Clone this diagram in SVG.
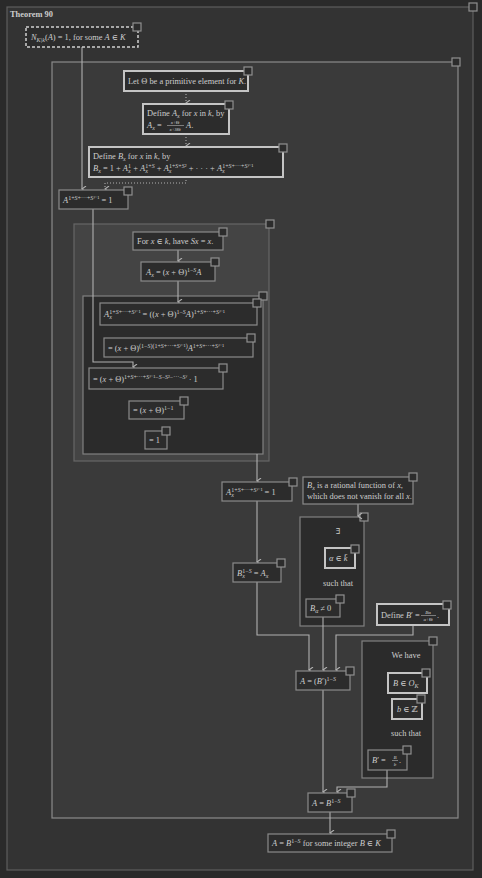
<svg xmlns="http://www.w3.org/2000/svg" width="482" height="878" viewBox="0 0 482 878">
<defs>
<style>
.t{font-family:"Liberation Serif","DejaVu Serif",serif;font-size:8.4px;fill:#cdcdcd}
.b{font-weight:bold}
.i{font-style:italic}
.s{font-size:6px}
.xs{font-size:5px}
.n{fill:#2c2c2c;stroke:#8a8a8a;stroke-width:1.2}
.k{fill:#2c2c2c;stroke:#c4c4c4;stroke-width:2}
.q{fill:#2c2c2c;stroke:#909090;stroke-width:1.2}
.c{fill:none;stroke:#b0b0b0;stroke-width:1.1}
.d{fill:none;stroke:#b0b0b0;stroke-width:1.1;stroke-dasharray:1 2}
</style>
<marker id="a" markerWidth="8" markerHeight="6" refX="3.5" refY="5" orient="auto-start-reverse" markerUnits="userSpaceOnUse" viewBox="0 0 8 6">
<path d="M0.5,1 L3.5,5 L6.5,1" fill="none" stroke="#b0b0b0" stroke-width="1.1"/>
</marker>
</defs>
<rect x="0" y="0" width="482" height="878" fill="#2a2a2a"/>
<g id="theorem">
<rect x="7" y="7" width="466" height="863" fill="#333333" stroke="#5e5e5e" stroke-width="1.2"/>
<rect class="q" x="469" y="3" width="8" height="8"/>
<text class="t b" x="10" y="17">Theorem 90</text>
</g>
<g id="frame">
<rect x="52" y="62" width="406" height="756" fill="#3a3a3a" stroke="#8a8a8a" stroke-width="1.2"/>
<rect class="q" x="452" y="58" width="8" height="8"/>
</g>
<g id="group-forx">
<rect x="74" y="224" width="195" height="237" fill="#444444" stroke="#666666" stroke-width="1.2"/>
<rect class="q" x="266" y="220" width="8" height="8"/>
</g>
<g id="group-chain">
<rect x="83" y="296" width="180" height="158" fill="#2b2b2b" stroke="#808080" stroke-width="1.2"/>
<rect class="q" x="259" y="292" width="8" height="8"/>
</g>
<g id="group-exists">
<rect x="300" y="517" width="64" height="109" fill="#2b2b2b" stroke="#808080" stroke-width="1.2"/>
<rect class="q" x="360" y="513" width="8" height="8"/>
<text class="t" x="338" y="534" text-anchor="middle">∃</text>
<text class="t" x="338" y="586" text-anchor="middle">such that</text>
</g>
<g id="group-wehave">
<rect x="362" y="641" width="71" height="137" fill="#2b2b2b" stroke="#808080" stroke-width="1.2"/>
<rect class="q" x="429" y="637" width="8" height="8"/>
<text class="t" x="406" y="658" text-anchor="middle">We have</text>
<text class="t" x="406" y="736" text-anchor="middle">such that</text>
</g>
<g id="connectors">
<path class="c" d="M82,47 V189" marker-end="url(#a)"/>
<path class="d" d="M186,91 V103" marker-end="url(#a)"/>
<path class="d" d="M186,134 V146" marker-end="url(#a)"/>
<path class="d" d="M186,177 V183 H105 V189" marker-end="url(#a)"/>
<path class="c" d="M93,209 V362 H133 V367" marker-end="url(#a)"/>
<path class="c" d="M178,250 V261" marker-end="url(#a)"/>
<path class="c" d="M178,281 V302" marker-end="url(#a)"/>
<path class="c" d="M257,454 V481" marker-end="url(#a)"/>
<path class="c" d="M257,501 V562" marker-end="url(#a)"/>
<path class="c" d="M358,504 V516" marker-end="url(#a)"/>
<path class="c" d="M257,582 V635 H309 V670" marker-end="url(#a)"/>
<path class="c" d="M323,617 V670" marker-end="url(#a)"/>
<path class="c" d="M413,625 V635 H336 V670" marker-end="url(#a)"/>
<path class="c" d="M323,690 V792" marker-end="url(#a)"/>
<path class="c" d="M387,770 V787 H337 V792" marker-end="url(#a)"/>
<path class="c" d="M330,812 V833" marker-end="url(#a)"/>
</g>
<g id="n1">
<rect x="26" y="27" width="112" height="20" fill="#2c2c2c" stroke="#cfcfcf" stroke-width="1.5" stroke-dasharray="3 2"/>
<rect class="q" x="133" y="23" width="8" height="8"/>
<text class="t" x="31" y="40"><tspan class="i">N</tspan><tspan class="s i" dy="1.5">K|k</tspan><tspan dy="-1.5">(</tspan><tspan class="i">A</tspan>) = 1, for some <tspan class="i">A</tspan> ∈ <tspan class="i">K</tspan></text>
</g>
<g id="n2">
<rect class="k" x="124" y="71" width="124" height="20"/>
<rect class="q" x="244" y="67" width="8" height="8"/>
<text class="t" x="128" y="84">Let Θ be a primitive element for <tspan class="i">K</tspan>.</text>
</g>
<g id="n3">
<rect class="k" x="143" y="104" width="86" height="30"/>
<rect class="q" x="225" y="101" width="8" height="8"/>
<text class="t" x="147" y="116">Define <tspan class="i">A</tspan><tspan class="s i" dy="1.5">x</tspan><tspan dy="-1.5"> for </tspan><tspan class="i">x</tspan> in <tspan class="i">k</tspan>, by</text>
<text class="t" x="147" y="128"><tspan class="i">A</tspan><tspan class="s i" dy="1.5">x</tspan><tspan dy="-1.5"> = </tspan></text>
<text class="t xs" x="175" y="124" text-anchor="middle"><tspan class="i">x</tspan>+Θ</text>
<line x1="167" y1="125.5" x2="184" y2="125.5" stroke="#cdcdcd" stroke-width="0.5"/>
<text class="t xs" x="175" y="130.5" text-anchor="middle"><tspan class="i">x</tspan>+<tspan class="i">S</tspan>Θ</text>
<text class="t" x="186" y="128"><tspan class="i">A</tspan>.</text>
</g>
<g id="n4">
<rect class="k" x="89" y="147" width="194" height="30"/>
<rect class="q" x="279" y="144" width="8" height="8"/>
<text class="t" x="93" y="159">Define <tspan class="i">B</tspan><tspan class="s i" dy="1.5">x</tspan><tspan dy="-1.5"> for </tspan><tspan class="i">x</tspan> in <tspan class="i">k</tspan>, by</text>
<text class="t" x="93" y="171"><tspan class="i">B</tspan><tspan class="s i" dy="1.5">x</tspan><tspan dy="-1.5"> = 1 + </tspan><tspan class="i">A</tspan><tspan class="s i" dy="1.5">x</tspan><tspan class="s" dx="-2.5" dy="-5">1</tspan><tspan dy="3.5"> + </tspan><tspan class="i">A</tspan><tspan class="s i" dy="1.5">x</tspan><tspan class="s" dx="-2.5" dy="-5">1+<tspan class="i">S</tspan></tspan><tspan dy="3.5"> + </tspan><tspan class="i">A</tspan><tspan class="s i" dy="1.5">x</tspan><tspan class="s" dx="-2.5" dy="-5">1+<tspan class="i">S</tspan>+<tspan class="i">S</tspan>²</tspan><tspan dy="3.5"> + · · · + </tspan><tspan class="i">A</tspan><tspan class="s i" dy="1.5">x</tspan><tspan class="s" dx="-2.5" dy="-5">1+<tspan class="i">S</tspan>+···+<tspan class="i">S</tspan><tspan class="i">ᶠ</tspan>⁻¹</tspan></text>
</g>
<g id="n5">
<rect class="n" x="59" y="190" width="69" height="19"/>
<rect class="q" x="124" y="187" width="8" height="8"/>
<text class="t" x="63" y="203"><tspan class="i">A</tspan><tspan class="s" dy="-3.5">1+<tspan class="i">S</tspan>+···+<tspan class="i">S</tspan><tspan class="i">ᶠ</tspan>⁻¹</tspan><tspan dy="3.5"> = 1</tspan></text>
</g>
<g id="n8">
<rect class="n" x="133" y="232" width="90" height="18"/>
<rect class="q" x="219" y="228" width="8" height="8"/>
<text class="t" x="137" y="244">For <tspan class="i">x</tspan> ∈ <tspan class="i">k</tspan>, have <tspan class="i">Sx</tspan> = <tspan class="i">x</tspan>.</text>
</g>
<g id="n9">
<rect class="n" x="141" y="262" width="74" height="19"/>
<rect class="q" x="211" y="258" width="8" height="8"/>
<text class="t" x="146" y="275"><tspan class="i">A</tspan><tspan class="s i" dy="1.5">x</tspan><tspan dy="-1.5"> = (</tspan><tspan class="i">x</tspan> + Θ)<tspan class="s" dy="-3.5">1−<tspan class="i">S</tspan></tspan><tspan class="i" dy="3.5">A</tspan></text>
</g>
<g id="n11">
<rect class="n" x="100" y="303" width="157" height="22"/>
<rect class="q" x="253" y="299" width="8" height="8"/>
<text class="t" x="104" y="317"><tspan class="i">A</tspan><tspan class="s i" dy="1.5">x</tspan><tspan class="s" dx="-2.5" dy="-5">1+<tspan class="i">S</tspan>+···+<tspan class="i">S</tspan><tspan class="i">ᶠ</tspan>⁻¹</tspan><tspan dy="3.5"> = ((</tspan><tspan class="i">x</tspan> + Θ)<tspan class="s" dy="-3.5">1−<tspan class="i">S</tspan></tspan><tspan class="i" dy="3.5">A</tspan>)<tspan class="s" dy="-3.5">1+<tspan class="i">S</tspan>+···+<tspan class="i">S</tspan><tspan class="i">ᶠ</tspan>⁻¹</tspan></text>
</g>
<g id="n12">
<rect class="n" x="104" y="338" width="149" height="19"/>
<rect class="q" x="247" y="334" width="8" height="8"/>
<text class="t" x="108" y="351">= (<tspan class="i">x</tspan> + Θ)<tspan class="s" dy="-3.5">(1−<tspan class="i">S</tspan>)(1+<tspan class="i">S</tspan>+···+<tspan class="i">S</tspan><tspan class="i">ᶠ</tspan>⁻¹)</tspan><tspan class="i" dy="3.5">A</tspan><tspan class="s" dy="-3.5">1+<tspan class="i">S</tspan>+···+<tspan class="i">S</tspan><tspan class="i">ᶠ</tspan>⁻¹</tspan></text>
</g>
<g id="n13">
<rect class="n" x="89" y="368" width="134" height="21"/>
<rect class="q" x="219" y="364" width="8" height="8"/>
<text class="t" x="93" y="382">= (<tspan class="i">x</tspan> + Θ)<tspan class="s" dy="-3.5">1+<tspan class="i">S</tspan>+···+<tspan class="i">S</tspan><tspan class="i">ᶠ</tspan>⁻¹−<tspan class="i">S</tspan>−<tspan class="i">S</tspan>²−···−<tspan class="i">S</tspan><tspan class="i">ᶠ</tspan></tspan><tspan dy="3.5"> · 1</tspan></text>
</g>
<g id="n14">
<rect class="n" x="129" y="401" width="55" height="18"/>
<rect class="q" x="180" y="397" width="8" height="8"/>
<text class="t" x="133" y="413">= (<tspan class="i">x</tspan> + Θ)<tspan class="s" dy="-3.5">1−1</tspan></text>
</g>
<g id="n15">
<rect class="n" x="145" y="431" width="22" height="18"/>
<rect class="q" x="162" y="427" width="8" height="8"/>
<text class="t" x="149" y="443">= 1</text>
</g>
<g id="n16">
<rect class="n" x="222" y="482" width="70" height="19"/>
<rect class="q" x="289" y="478" width="8" height="8"/>
<text class="t" x="226" y="495"><tspan class="i">A</tspan><tspan class="s i" dy="1.5">x</tspan><tspan class="s" dx="-2.5" dy="-5">1+<tspan class="i">S</tspan>+···+<tspan class="i">S</tspan><tspan class="i">ᶠ</tspan>⁻¹</tspan><tspan dy="3.5"> = 1</tspan></text>
</g>
<g id="n17">
<rect class="n" x="303" y="477" width="110" height="27"/>
<rect class="q" x="409" y="473" width="8" height="8"/>
<text class="t" x="307" y="488"><tspan class="i">B</tspan><tspan class="s i" dy="1.5">x</tspan><tspan dy="-1.5"> is a rational function of </tspan><tspan class="i">x</tspan>,</text>
<text class="t" x="307" y="499">which does not vanish for all <tspan class="i">x</tspan>.</text>
</g>
<g id="n19">
<rect class="k" x="325" y="548" width="30" height="20"/>
<rect class="q" x="351" y="545" width="8" height="8"/>
<text class="t" x="329" y="561"><tspan class="i">α</tspan> ∈ <tspan class="i">k̄</tspan></text>
</g>
<g id="n20">
<rect class="n" x="306" y="599" width="34" height="18"/>
<rect class="q" x="336" y="595" width="8" height="8"/>
<text class="t" x="310" y="611"><tspan class="i">B</tspan><tspan class="s i" dy="1.5">α</tspan><tspan dy="-1.5"> ≠ 0</tspan></text>
</g>
<g id="n21">
<rect class="n" x="233" y="563" width="48" height="19"/>
<rect class="q" x="277" y="559" width="8" height="8"/>
<text class="t" x="237" y="576"><tspan class="i">B</tspan><tspan class="s i" dy="1.5">x</tspan><tspan class="s" dx="-2.5" dy="-5">1−<tspan class="i">S</tspan></tspan><tspan dy="3.5"> = </tspan><tspan class="i">A</tspan><tspan class="s i" dy="1.5">x</tspan></text>
</g>
<g id="n22">
<rect class="k" x="377" y="604" width="72" height="21"/>
<rect class="q" x="443" y="601" width="8" height="8"/>
<text class="t" x="381" y="618">Define <tspan class="i">B</tspan>′ = </text>
<text class="t xs" x="428" y="614" text-anchor="middle"><tspan class="i">B</tspan>α</text>
<line x1="421" y1="615.5" x2="436" y2="615.5" stroke="#cdcdcd" stroke-width="0.5"/>
<text class="t xs" x="428" y="620.5" text-anchor="middle"><tspan class="i">α</tspan>+Θ</text>
<text class="t" x="437" y="618">.</text>
</g>
<g id="n23">
<rect class="n" x="296" y="671" width="54" height="19"/>
<rect class="q" x="346" y="667" width="8" height="8"/>
<text class="t" x="300" y="684"><tspan class="i">A</tspan> = (<tspan class="i">B</tspan>′)<tspan class="s" dy="-3.5">1−<tspan class="i">S</tspan></tspan></text>
</g>
<g id="n25">
<rect class="k" x="388" y="673" width="39" height="20"/>
<rect class="q" x="422" y="669" width="8" height="8"/>
<text class="t" x="393" y="686"><tspan class="i">B</tspan> ∈ <tspan class="i">O</tspan><tspan class="s i" dy="1.5">K</tspan></text>
</g>
<g id="n26">
<rect class="k" x="392" y="699" width="30" height="20"/>
<rect class="q" x="417" y="695" width="8" height="8"/>
<text class="t" x="397" y="712"><tspan class="i">b</tspan> ∈ ℤ</text>
</g>
<g id="n27">
<rect class="n" x="368" y="750" width="39" height="20"/>
<rect class="q" x="403" y="746" width="8" height="8"/>
<text class="t" x="372" y="763"><tspan class="i">B</tspan>′ = </text>
<text class="t xs" x="395" y="759" text-anchor="middle"><tspan class="i">B</tspan></text>
<line x1="392" y1="760.5" x2="398" y2="760.5" stroke="#cdcdcd" stroke-width="0.5"/>
<text class="t xs" x="395" y="765.5" text-anchor="middle"><tspan class="i">b</tspan></text>
<text class="t" x="399" y="763">.</text>
</g>
<g id="n28">
<rect class="n" x="308" y="793" width="44" height="19"/>
<rect class="q" x="347" y="789" width="8" height="8"/>
<text class="t" x="312" y="806"><tspan class="i">A</tspan> = <tspan class="i">B</tspan><tspan class="s" dy="-3.5">1−<tspan class="i">S</tspan></tspan></text>
</g>
<g id="n29">
<rect class="n" x="268" y="834" width="124" height="18"/>
<rect class="q" x="387" y="830" width="8" height="8"/>
<text class="t" x="272" y="846"><tspan class="i">A</tspan> = <tspan class="i">B</tspan><tspan class="s" dy="-3.5">1−<tspan class="i">S</tspan></tspan><tspan dy="3.5"> for some integer </tspan><tspan class="i">B</tspan> ∈ <tspan class="i">K</tspan></text>
</g>
</svg>
